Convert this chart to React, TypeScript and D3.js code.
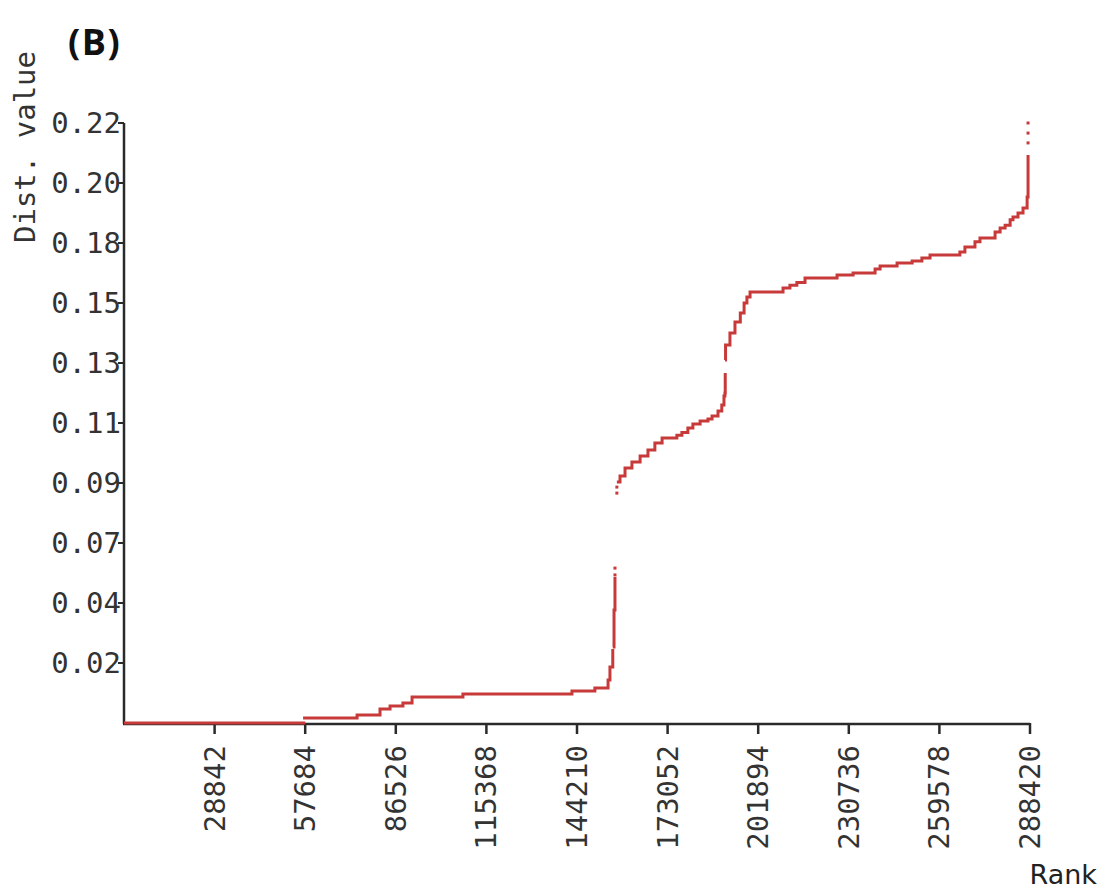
import React from "react";
import * as d3 from "d3";

const xTicks = [28842, 57684, 86526, 115368, 144210, 173052, 201894, 230736, 259578, 288420];
const yTicks = [0.022, 0.044, 0.066, 0.088, 0.11, 0.132, 0.154, 0.176, 0.198, 0.22];

const zeroSegment: [number, number][] = [[0, 0], [57700, 0]];

const lowSegmentA: [number, number][] = [
  [57000, 0.0018], [74200, 0.0029], [81500, 0.0051], [84700, 0.0062], [88800, 0.0073],
  [91700, 0.0095], [107900, 0.0106], [142600, 0.0117], [149900, 0.0128], [154100, 0.0158],
  [154700, 0.0205], [155600, 0.0271],
];

const lowSegmentB: [number, number][] = [
  [155600, 0.0279], [156000, 0.0414], [156300, 0.0535],
];

const upperSegmentA: [number, number][] = [
  [156900, 0.0884], [157900, 0.0906], [159500, 0.0935], [161700, 0.0957], [164300, 0.0979],
  [166800, 0.1001], [169000, 0.1027], [171300, 0.1045], [176000, 0.1055], [177600, 0.1065],
  [179500, 0.1082], [181100, 0.1096], [183400, 0.1107], [185900, 0.1115], [187200, 0.1126],
  [189100, 0.1144], [190300, 0.1166], [191000, 0.1199], [191300, 0.121], [191400, 0.1283],
];

const upperSegmentB: [number, number][] = [
  [191300, 0.1331], [191500, 0.1386], [192900, 0.143], [194500, 0.147], [196200, 0.1503],
  [197400, 0.154], [198300, 0.1562], [199300, 0.158], [209800, 0.1595], [212000, 0.1605],
  [214200, 0.1615], [216800, 0.1632], [227000, 0.1643], [232100, 0.165], [239100, 0.1665],
  [240700, 0.1676], [246100, 0.1687], [250900, 0.1694], [254000, 0.1705], [256600, 0.1716],
  [266100, 0.1727], [267700, 0.1745], [270900, 0.1765], [272500, 0.1778], [277300, 0.18],
  [278900, 0.1815], [280500, 0.1825], [282100, 0.1845], [283000, 0.1855], [284600, 0.187],
  [286200, 0.1888], [287500, 0.1929], [287800, 0.2083],
];

const isolatedPoints: [number, number][] = [
  [156300, 0.0543], [156300, 0.0568], [156900, 0.0843], [156900, 0.0865],
  [287800, 0.2127], [287800, 0.2163], [287800, 0.22],
];

const segments = [zeroSegment, lowSegmentA, lowSegmentB, upperSegmentA, upperSegmentB];

const RED = "#c83a3a";
const AXIS = "#2a2a2a";
const MONO = "'DejaVu Sans Mono', monospace";

export default function App() {
  const x = d3.scaleLinear().domain([0, 288420]).range([124, 1030]);
  const y = d3.scaleLinear().domain([0, 0.22]).range([723, 123]);
  const line = d3
    .line<[number, number]>()
    .x((d) => x(d[0]))
    .y((d) => y(d[1]))
    .curve(d3.curveStepAfter);

  return (
    <svg
      width={1105}
      height={889}
      style={{ position: "absolute", left: 0, top: 0, background: "#fff" }}
    >
      <rect width={1105} height={889} fill="#fff" />
      <text
        x={68}
        y={55}
        fontFamily="'Open Sans', sans-serif"
        fontWeight={700}
        fontSize={36}
        letterSpacing={1.5}
        fill="#111"
      >
        (B)
      </text>
      <text
        transform={`translate(25, 147) rotate(-90)`}
        textAnchor="middle"
        dominantBaseline="central"
        fontFamily={MONO}
        fontSize={29}
        fill="#333"
      >
        Dist. value
      </text>

      {/* axes */}
      <line x1={124} y1={y(0.22)} x2={124} y2={y(0) + 1} stroke={AXIS} strokeWidth={2.5} />
      <line x1={123} y1={y(0) + 1} x2={x(288420)} y2={y(0) + 1} stroke={AXIS} strokeWidth={2.5} />
      {yTicks.map((t) => (
        <g key={"y" + t}>
          <line x1={118} x2={124} y1={y(t)} y2={y(t)} stroke={AXIS} strokeWidth={2} />
          <text
            x={121}
            y={y(t)}
            textAnchor="end"
            dominantBaseline="central"
            fontFamily={MONO}
            fontSize={29}
            fill="#333"
          >
            {t.toFixed(2)}
          </text>
        </g>
      ))}
      {xTicks.map((t) => (
        <g key={"x" + t}>
          <line x1={x(t)} x2={x(t)} y1={y(0)} y2={y(0) + 11} stroke={AXIS} strokeWidth={2.5} />
          <text
            transform={`translate(${x(t)}, 745) rotate(-90)`}
            textAnchor="end"
            dominantBaseline="central"
            fontFamily={MONO}
            fontSize={29}
            fill="#333"
          >
            {String(t)}
          </text>
        </g>
      ))}
      <text
        x={1097}
        y={884}
        textAnchor="end"
        fontFamily="'DejaVu Sans', sans-serif"
        fontSize={27}
        fill="#222"
      >
        Rank
      </text>

      {/* data */}
      {segments.map((s, i) => (
        <path key={i} d={line(s) || ""} fill="none" stroke={RED} strokeWidth={3} />
      ))}
      {isolatedPoints.map((p, i) => (
        <rect key={"p" + i} x={x(p[0]) - 1.5} y={y(p[1]) - 1.5} width={3} height={3} fill={RED} />
      ))}
    </svg>
  );
}
